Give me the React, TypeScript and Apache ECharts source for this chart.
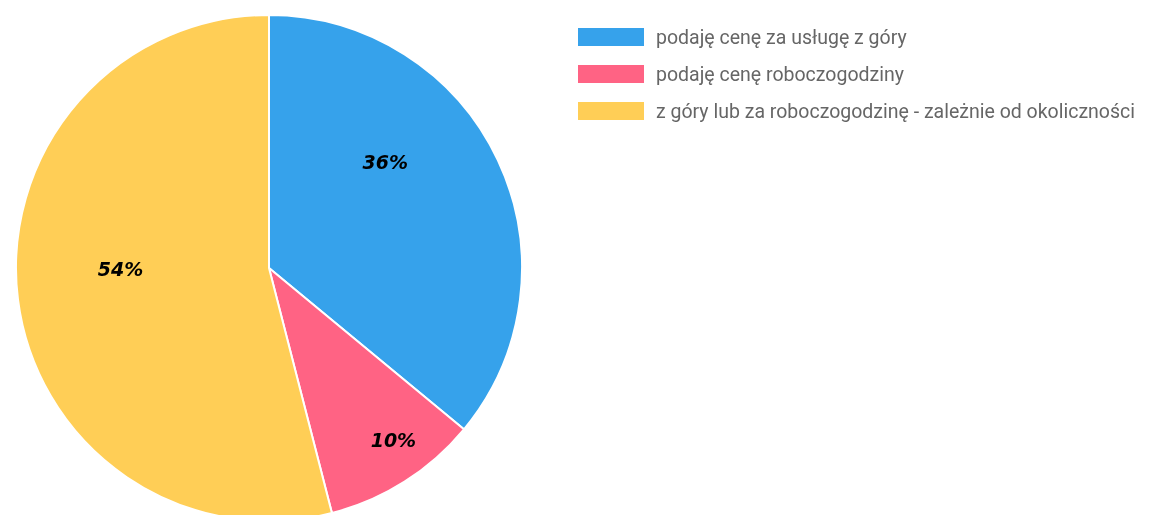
import React, { useEffect, useRef } from "react";
import * as echarts from "echarts";

const categories = [
  "podaję cenę za usługę z góry",
  "podaję cenę roboczogodziny",
  "z góry lub za roboczogodzinę - zależnie od okoliczności",
];
const values = [36, 10, 54];
const colors = ["#36A2EB", "#FF6384", "#FFCE56"];
const labelOffsets = [
  [-1, -51],
  [55, 63],
  [-20, -15],
];

export default function App() {
  const ref = useRef<HTMLDivElement>(null);
  useEffect(() => {
    const chart = echarts.init(ref.current!, null, { renderer: "svg" });
    chart.setOption({
      animation: false,
      legend: {
        orient: "vertical",
        left: 576,
        top: 26,
        padding: 0,
        itemWidth: 68,
        itemHeight: 20,
        itemGap: 15,
        icon: "rect",
        textStyle: {
          color: "#666",
          fontSize: 19.5,
          lineHeight: 20,
          fontFamily: "Roboto",
          padding: [0, 0, 0, 6],
        },
        data: categories,
      },
      series: [
        {
          type: "pie",
          center: [269, 268],
          radius: 253,
          startAngle: 90,
          clockwise: true,
          avoidLabelOverlap: false,
          itemStyle: { borderColor: "#fff", borderWidth: 2 },
          label: {
            show: true,
            position: "inside",
            formatter: "{c}%",
            color: "#000",
            fontSize: 19,
            fontWeight: "bold",
            fontStyle: "italic",
            fontFamily: "DejaVu Sans",
          },
          labelLine: { show: false },
          emphasis: { disabled: true },
          data: categories.map((name, i) => ({
            name,
            value: values[i],
            itemStyle: { color: colors[i] },
            label: { offset: labelOffsets[i] },
          })),
        },
      ],
    });
    return () => chart.dispose();
  }, []);
  return (
    <div
      ref={ref}
      style={{ position: "fixed", left: 0, top: 0, width: 1166, height: 515 }}
    />
  );
}
